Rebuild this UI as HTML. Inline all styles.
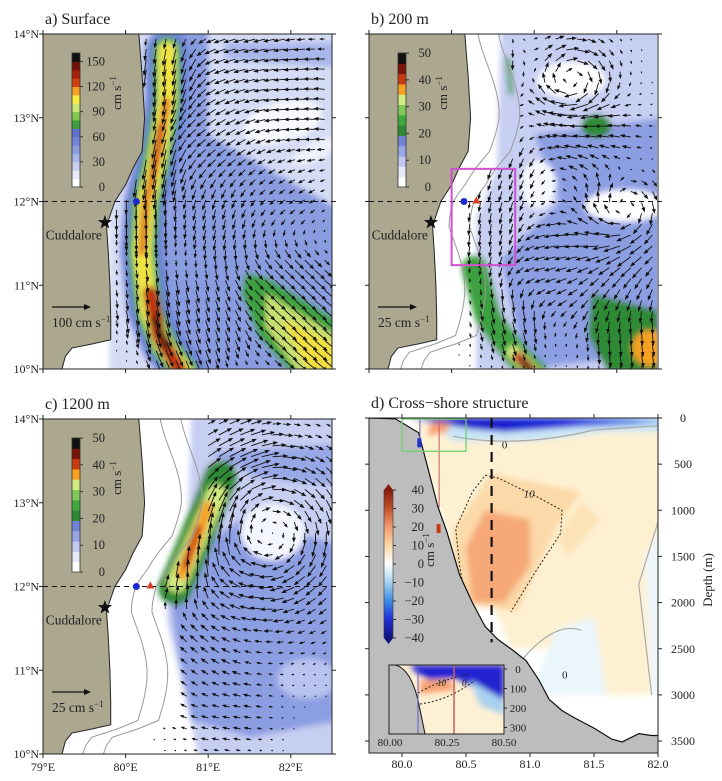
<!DOCTYPE html>
<html><head><meta charset="utf-8">
<style>
html,body{margin:0;padding:0;background:#fff;}
svg{display:block;font-family:"Liberation Serif",serif;}
</style></head>
<body>
<svg id="fig" width="722" height="781" viewBox="0 0 722 781" xmlns="http://www.w3.org/2000/svg">
<defs>
<filter id="bl" x="-20%" y="-20%" width="140%" height="140%"><feGaussianBlur stdDeviation="3"/></filter>
<clipPath id="clipA"><rect x="43" y="34" width="289" height="335"/></clipPath>
<clipPath id="clipB"><rect x="369" y="34" width="288" height="335"/></clipPath>
<clipPath id="clipC"><rect x="43" y="419" width="289" height="335"/></clipPath>
<clipPath id="clipD"><rect x="369" y="418" width="289" height="335"/></clipPath>
<clipPath id="clipIn"><rect x="389" y="665" width="115" height="69"/></clipPath>
<linearGradient id="dbar" x1="0" y1="0" x2="0" y2="1">
<stop offset="0" stop-color="#8c1a10"/><stop offset="0.12" stop-color="#c0502a"/><stop offset="0.25" stop-color="#f09a70"/><stop offset="0.37" stop-color="#fbd6a6"/><stop offset="0.5" stop-color="#ffffff"/><stop offset="0.62" stop-color="#a8d4f0"/><stop offset="0.75" stop-color="#3c8ce6"/><stop offset="0.87" stop-color="#2030d8"/><stop offset="1" stop-color="#101080"/>
</linearGradient>
<linearGradient id="topblue" x1="0" y1="0" x2="1" y2="0">
<stop offset="0" stop-color="#1010c0"/><stop offset="0.6" stop-color="#1a28d8"/><stop offset="0.85" stop-color="#5a8ae8"/><stop offset="1" stop-color="#c8e0f4"/>
</linearGradient>
</defs>
<g id="root"></g>
</svg>
<script>
// ---------- data arrays ----------
const latTicks=[14,13,12,11,10];
const lonTicks=[79,80,81,82];
const cbarA=[0,30,60,90,120,150];
const cbarB=[0,10,20,30,40,50];
const cbarD=[40,30,20,10,0,-10,-20,-30,-40];
const depthTicks=[0,500,1000,1500,2000,2500,3000,3500];
const dLonTicks=[80.0,80.5,81.0,81.5,82.0];
const insetDepth=[0,100,200,300];
const insetLon=["80.00","80.25","80.50"];
const coastLat=[14.0,13.5,13.0,12.6,12.4,12.2,12.0,11.8,11.7,11.4,11.0,10.6,10.35,10.3,10.25,10.15,10.0];
const coastLon=[80.16,80.2,80.23,80.2,80.09,80.0,79.87,79.8,79.77,79.79,79.81,79.82,79.82,79.6,79.35,79.27,79.23];
// velocity features [lon,lat,radius,u,v]
const featA=[[80.5,13.5,0.4,-0.2,-1.6],[80.35,12.5,0.35,-0.3,-1.8],[80.22,11.8,0.3,0,-1.8],[80.3,10.8,0.35,0.3,-1.8],[80.6,10.2,0.3,0.7,-1.5],[81.5,13.6,0.6,-1.0,-0.3],[82.2,13.2,0.6,-0.9,0.1],[81.2,12.8,0.5,-0.8,-0.6],[81.9,12.1,0.5,-0.5,-0.3],[81.2,11.8,0.5,-0.2,-0.9],[81.9,11.0,0.5,0.9,-0.8],[82.3,10.4,0.5,1.1,-0.9],[81.0,10.6,0.5,0.3,-1.0],[80.0,11,0.3,0,-0.2]];
const featB=[[80.6,13.5,0.4,-0.1,-1.0],[80.7,12.4,0.4,-0.3,-0.8],[80.5,11.6,0.4,-0.1,-1.0],[80.7,10.6,0.4,0.3,-1.1],[81.3,11.3,0.5,-1.0,-0.2],[82.0,11.0,0.5,-0.6,-0.8],[82.2,10.4,0.5,0.2,-1.1],[81.8,12.7,0.5,-1.0,0.2]];
const vortB=[[81.45,13.45,0.45,1.6],[82.1,11.9,0.45,1.4]];
const featC=[[80.9,12.6,0.35,0.6,1.3],[80.7,12.0,0.3,0.5,0.7],[81.3,13.6,0.4,0.6,0.3],[80.8,11.0,0.5,-0.4,0.4],[81.2,10.5,0.5,-0.6,0.1]];
const vortC=[[81.75,12.65,0.95,1.7]];

const NS="http://www.w3.org/2000/svg";
const root=document.getElementById('root');
function mk(tag,attrs,parent){const e=document.createElementNS(NS,tag);for(const k in attrs)e.setAttribute(k,attrs[k]);(parent||root).appendChild(e);return e;}
function txt(s,x,y,size,anchor,parent,extra){const t=mk('text',Object.assign({x:x,y:y,'font-size':size,'text-anchor':anchor||'start',fill:'#222'},extra||{}),parent);t.textContent=s;return t;}
function coast(lat){for(let i=0;i<coastLat.length-1;i++){if(lat<=coastLat[i]&&lat>=coastLat[i+1]){const f=(coastLat[i]-lat)/(coastLat[i]-coastLat[i+1]);return coastLon[i]+f*(coastLon[i+1]-coastLon[i]);}}return 79.2;}

function mapPanel(id,ox,oy,title,clip,opts){
  const X=lon=>ox+(lon-79)*82.6, Y=lat=>oy+(14-lat)*83.75;
  const g=mk('g',{});
  
  
  const t=txt(title,ox+2,oy-10,16,'start',g);
  
  
  const cg=mk('g',{'clip-path':'url(#'+clip+')'},g);
  mk('rect',{x:ox,y:oy,width:289,height:335,fill:'#fff'},cg);
  const sh=mk('g',{filter:'url(#bl)'},cg);
  const poly=(pts,fill,par)=>mk('path',{d:'M'+pts.map(p=>X(p[0])+','+Y(p[1])).join('L')+'Z',fill:fill},par||sh);
  const line=(pts,col,w,par)=>mk('path',{d:'M'+pts.map(p=>X(p[0])+','+Y(p[1])).join('L'),fill:'none',stroke:col,'stroke-width':w,'stroke-linecap':'round','stroke-linejoin':'round'},par||sh);
  const ell=(lon,lat,rx,ry,rot,fill,par)=>mk('ellipse',{cx:X(lon),cy:Y(lat),rx:rx,ry:ry,fill:fill,transform:'rotate('+rot+' '+X(lon)+' '+Y(lat)+')'},par||sh);
  opts.shade(poly,line,ell,X,Y,sh,cg);
  (opts.bathy||[]).forEach(off=>{
    const pts=[];for(let la=14;la>=10;la-=0.1){pts.push([coast(la)+off+0.1*Math.sin(la*3),la]);}
    mk('path',{d:'M'+pts.map(p=>X(p[0])+','+Y(p[1])).join('L'),fill:'none',stroke:'#999','stroke-width':1},cg);
  });
  const ag=mk('g',{stroke:'#111',fill:'#111'},cg);
  
  
  for(let la=13.94;la>10.0;la-=opts.step){for(let lo=79.05;lo<82.5;lo+=opts.step){
    if(lo<coast(la)+opts.off(la))continue;
    const v=opts.vel(lo,la);let sp=Math.hypot(v[0],v[1]);if(sp<0.05)continue;
    let L=Math.min(sp*opts.scale,opts.cap);
    const x0=X(lo),y0=Y(la),dx=v[0]/sp,dy=-v[1]/sp;
    const x1=x0+dx*L,y1=y0+dy*L;
    mk('line',{x1:x0,y1:y0,x2:x1,y2:y1,'stroke-width':0.9},ag);
    const h=Math.min(3.5,1+L*0.3),w=h*0.55;
    mk('path',{d:`M${x1+dx*h*0.4},${y1+dy*h*0.4}L${x1-dx*h-dy*w},${y1-dy*h+dx*w}L${x1-dx*h+dy*w},${y1-dy*h-dx*w}Z`,stroke:'none'},ag);
  }}
  const lp=[[78.9,14.1],[coastLon[0],14.1]];coastLat.forEach((la,i)=>lp.push([coastLon[i],la]));lp.push([79.22,9.9]);lp.push([78.9,9.9]);
  const land=mk('path',{d:'M'+lp.map(p=>X(p[0])+','+Y(p[1])).join('L')+'Z',fill:'#aca88f',stroke:'#222','stroke-width':1},cg);
  
  
  mk('line',{x1:ox,x2:ox+289,y1:Y(12),y2:Y(12),stroke:'#111','stroke-width':1,'stroke-dasharray':'5,4'},g);
  if(opts.box){const b=mk('rect',{x:X(80.0),y:Y(12.39),width:X(80.77)-X(80.0),height:Y(11.24)-Y(12.39),fill:'none',stroke:'#d050d0','stroke-width':2},g);}
  const dot=mk('circle',{cx:X(opts.dot[0]),cy:Y(12),r:3.5,fill:'#1a2ad0'},g);
  
  if(opts.tri){const tx=X(opts.tri),ty=Y(12);const tr=mk('path',{d:`M${tx},${ty-5}L${tx+4},${ty+2}L${tx-4},${ty+2}Z`,fill:'#d84020'},g);}
  const sx=X(79.75),sy=Y(11.75);let sp='';for(let i=0;i<10;i++){const r=i%2?3:7.5,a=-Math.PI/2+i*Math.PI/5;sp+=(i?'L':'M')+(sx+r*Math.cos(a))+','+(sy+r*Math.sin(a));}
  const st=mk('path',{d:sp+'Z',fill:'#111'},g);
  const cl=txt('Cuddalore',sx-3,sy+17,13.5,'end',g);
  mk('rect',{x:ox,y:oy,width:289,height:335,fill:'none',stroke:'#222','stroke-width':1},g);
  latTicks.forEach(la=>{mk('line',{x1:ox-4,x2:ox,y1:Y(la),y2:Y(la),stroke:'#222'},g);mk('line',{x1:ox+289,x2:ox+293,y1:Y(la),y2:Y(la),stroke:'#222'},g);
    if(opts.leftLabels){const l=txt(la+'°N',ox-4,Y(la)+4,12,'end',g);}});
  lonTicks.forEach(lo=>{mk('line',{x1:X(lo),x2:X(lo),y1:oy-4,y2:oy,stroke:'#222'},g);mk('line',{x1:X(lo),x2:X(lo),y1:oy+335,y2:oy+339,stroke:'#222'},g);
    if(opts.bottomLabels){const l=txt(lo+'°E',X(lo),oy+352,12,'middle',g);}});
  const cb=mk('g',{},g);
  const cx0=ox+29,cy0=oy+19,ch=134,n=opts.cols.length;
  opts.cols.forEach((c,i)=>mk('rect',{x:cx0,y:cy0+ch-(i+1)*ch/n,width:8,height:ch/n+0.5,fill:c},cb));
  mk('rect',{x:cx0,y:cy0,width:8,height:ch,fill:'none',stroke:'#333','stroke-width':0.8},cb);
  const vmax=opts.vmax;
  opts.ticks.forEach(v=>{const yy=cy0+ch-v/vmax*ch;mk('line',{x1:cx0+8,x2:cx0+11,y1:yy,y2:yy,stroke:'#333'},cb);txt(String(v),cx0+33,yy+4,12.5,'end',cb);});
  const u=mk('text',{x:0,y:0,'font-size':13,fill:'#222',transform:`translate(${cx0+49},${cy0+40}) rotate(-90)`,'text-anchor':'middle'},cb);u.innerHTML='cm s<tspan font-size="9" dy="-5">−1</tspan>';
  const sa=mk('g',{},g);
  const ay=oy+opts.scaleY;mk('line',{x1:ox+9,x2:ox+44,y1:ay,y2:ay,stroke:'#111','stroke-width':1.3},sa);
  mk('path',{d:`M${ox+48},${ay}L${ox+41},${ay-3}L${ox+41},${ay+3}Z`,fill:'#111'},sa);
  const st2=mk('text',{x:ox+9,y:ay+20,'font-size':13.5,fill:'#222'},sa);st2.innerHTML=opts.scaleTxt+' cm s<tspan font-size="9" dy="-5">−1</tspan>';
}
function velFrom(feat,vort){return (lo,la)=>{let su=0,sv=0,sw=1e-3;feat.forEach(f=>{const w=Math.exp(-((lo-f[0])**2+(la-f[1])**2)/(f[2]*f[2]));su+=w*f[3];sv+=w*f[4];sw+=w;});
  let u=su/Math.max(sw,0.6),v=sv/Math.max(sw,0.6);
  (vort||[]).forEach(q=>{const dx=lo-q[0],dy=la-q[1],w=Math.exp(-(dx*dx+dy*dy)/(q[2]*q[2]));u+=q[3]*dy/q[2]*w*1.6;v+=-q[3]*dx/q[2]*w*1.6;});return [u,v];};}

const colsA=['#ffffff','#e6eaf8','#c8d0f0','#a8b6ea','#8c9ee2','#7284d8','#5f72d0','#3e9e3e','#7ec850','#c8e878','#f8ec40','#f4a020','#d04010','#a82008','#701008','#111111'];
const colsB=['#ffffff','#e6eaf8','#c0caf0','#98a8e6','#7284d8','#2e8a34','#3eaa3e','#80c858','#d0ec80','#f4a020','#c83a10','#7a1408','#111111'];

mapPanel('a',43,34,'a) Surface','clipA',{leftLabels:true,bottomLabels:false,step:0.12,scale:11,cap:24,off:la=>0.05,vel:velFrom(featA),
 dot:[80.13],tri:null,cols:colsA,vmax:160,ticks:cbarA,scaleY:273,scaleTxt:'100',
 shade:(poly,line,ell,X,Y,sh)=>{
  poly([[79.8,14.1],[82.6,14.1],[82.6,9.9],[79.8,9.9]],'#d4dbf4');
  poly([[80.6,14.1],[81.0,14.1],[81.0,12.8],[82.6,11.9],[82.6,9.9],[80.6,9.9],[80.4,10.8],[80.6,12.6]],'#8a9ce0');
  poly([[81.2,13.9],[82.6,13.9],[82.6,13.6],[81.2,13.7]],'#a8b6ea');
  ell(81.9,12.95,40,20,-15,'#f8f9fe');ell(82.3,12.6,26,9,-25,'#eef1fb');
  const jet=[[80.5,13.8],[80.5,13.2],[80.38,12.5],[80.25,12.0],[80.2,11.4],[80.28,10.7],[80.45,10.3],[80.72,9.95]];
  line(jet,'#6f84d8',44);line(jet,'#38a040',28);line(jet,'#c8e46a',20);line(jet,'#f2e23c',13);
  line(jet.slice(1,5),'#e07020',7);line([[80.3,10.9],[80.4,10.4],[80.65,10.0]],'#c03010',14);line([[80.35,10.6],[80.5,10.25]],'#200808',6);
  line([[80.42,12.9],[80.32,12.3]],'#c84818',6);
  poly([[81.45,11.15],[81.7,11.1],[82.55,10.6],[82.55,9.95],[82.0,9.95],[81.6,10.4],[81.4,10.9]],'#3ea040');
  poly([[81.7,10.9],[82.55,10.4],[82.55,9.95],[82.1,9.95],[81.7,10.5]],'#c8e070');
  poly([[81.9,10.6],[82.55,10.3],[82.55,9.98],[82.2,9.98]],'#f2e040');
 }});
mapPanel('b',369,34,'b) 200 m','clipB',{leftLabels:false,bottomLabels:false,step:0.13,scale:11,cap:20,off:la=>(la>12.4?0.55:0.35),vel:velFrom(featB,vortB),
 dot:[80.15],tri:80.3,box:true,cols:colsB,vmax:50,ticks:cbarB,scaleY:273,scaleTxt:'25',bathy:[0.25,0.5],
 shade:(poly,line,ell,X,Y,sh)=>{
  poly([[80.6,14.1],[82.6,14.1],[82.6,9.9],[80.3,9.9],[80.3,11.8],[80.55,12.4]],'#c6cef2');
  poly([[81.0,12.8],[82.6,13.0],[82.6,10.2],[80.9,10.0],[80.6,11.3],[81.3,12.0]],'#8c9ee2');
  ell(81.45,13.45,34,18,0,'#ffffff');ell(82.1,11.95,40,16,0,'#ffffff');ell(81.05,12.2,18,24,0,'#f6f8ff');
  line([[80.68,13.7],[80.72,13.3]],'#3ea040',5);
  ell(81.75,12.9,15,12,0,'#2e8a34');
  const j=[[80.28,11.2],[80.45,10.6],[80.75,10.2],[81.0,9.95]];line(j,'#3ea040',26);line(j.slice(2),'#d0ec80',14);
  line([[80.8,10.15],[81.0,9.95]],'#c83a10',10);line([[80.85,10.1],[81.0,9.95]],'#111',5);
  poly([[81.7,10.9],[82.5,10.7],[82.55,9.95],[81.9,9.95],[81.65,10.4]],'#2e8a34');
  ell(82.4,10.25,18,18,0,'#f4a020');
 }});
mapPanel('c',43,419,'c) 1200 m','clipC',{leftLabels:true,bottomLabels:true,step:0.13,scale:11,cap:20,off:la=>(la>12.3?0.75:(la>11.6?0.6:0.85)),vel:velFrom(featC,vortC),
 dot:[80.13],tri:80.3,cols:colsB,vmax:50,ticks:cbarB,scaleY:273,scaleTxt:'25',bathy:[0.35,0.6],
 shade:(poly,line,ell,X,Y,sh)=>{
  poly([[80.8,14.1],[82.6,14.1],[82.6,9.9],[80.9,9.9],[80.5,11.6],[80.5,12.2],[80.75,12.6]],'#c6cef2');
  poly([[80.5,12.2],[81.4,12.8],[82.6,12.5],[82.6,10.4],[81.5,10.2],[80.8,10.4],[80.6,11.4]],'#8c9ee2');
  ell(82.2,10.9,30,20,0,'#b8c4ee');
  poly([[81.0,13.6],[82.6,13.7],[82.6,13.2],[81.6,13.3]],'#98a8e6');
  ell(81.78,12.65,32,28,0,'#f4f6ff');
  const j=[[80.6,11.98],[80.85,12.55],[81.15,13.3]];
  line(j,'#2e8a34',34);line([[80.62,12.05],[80.85,12.55],[81.1,13.1]],'#d0ec80',20);line([[80.68,12.15],[80.85,12.55],[81.0,12.95]],'#f4a020',12);line([[80.72,12.25],[80.88,12.7]],'#c83a10',7);
 }});

(function(){
  const ox=369,oy=418,W=289,H=335;
  const X=lon=>402+(lon-80)*128, Y=d=>418+d*0.0923;
  const g=mk('g',{});
  const t=txt('d) Cross−shore structure',ox+2,oy-10,16,'start',g);
  const cg=mk('g',{'clip-path':'url(#clipD)'},g);
  mk('rect',{x:ox,y:oy,width:W,height:H,fill:'#fff'},cg);
  const sh=mk('g',{filter:'url(#bl)'},cg);
  const P=(pts,fill,par)=>mk('path',{d:'M'+pts.map(p=>X(p[0])+','+Y(p[1])).join('L')+'Z',fill:fill},par||sh);
  P([[80.1,0],[82.1,0],[82.1,3000],[81.3,3000],[81.2,2500],[80.85,2500],[80.7,2000],[80.5,2000],[80.3,1000],[80.15,300]],'#fef1d2');
  P([[80.7,600],[81.4,800],[81.2,1200],[80.9,2100],[80.4,2000],[80.4,1200]],'#fcd9a8');
  P([[81.4,900],[81.55,1100],[81.3,1500],[81.2,1300]],'#fde2b8');
  P([[80.65,1000],[81.0,1100],[81.0,1600],[80.8,2000],[80.55,2000],[80.5,1400]],'#f6a878');
  P([[81.2,2300],[81.5,2150],[81.6,3000],[81.0,3000]],'#eaf6fc');
  P([[81.9,1500],[82.1,1000],[82.1,3000],[81.95,3000]],'#eef6fc');
  P([[80.05,0],[82.1,0],[82.1,150],[81.6,150],[81.0,250],[80.4,250],[80.25,80]],'#c8e4f6');
  mk('path',{d:`M${X(80.05)},${Y(0)}L${X(82.1)},${Y(0)}L${X(82.1)},${Y(60)}L${X(81.4)},${Y(90)}L${X(80.8)},${Y(150)}L${X(80.55)},${Y(120)}L${X(80.3)},${Y(60)}Z`,fill:'url(#topblue)'},sh);
  P([[80.22,50],[80.38,60],[80.35,150],[80.2,200]],'#f6a070');
  mk('path',{d:`M${X(80.4)},${Y(200)}Q${X(80.9)},${Y(330)} ${X(81.5)},${Y(130)}L${X(82.05)},${Y(80)}`,fill:'none',stroke:'#aaa','stroke-width':1.2},cg);
  mk('path',{d:`M${X(81.1)},${Y(3000)}L${X(80.95)},${Y(2600)}Q${X(81.2)},${Y(2200)} ${X(81.4)},${Y(2300)}`,fill:'none',stroke:'#aaa','stroke-width':1.2},cg);
  mk('path',{d:`M${X(81.95)},${Y(3000)}L${X(81.85)},${Y(1800)}L${X(82.05)},${Y(900)}`,fill:'none',stroke:'#aaa','stroke-width':1.2},cg);
  const c10=mk('path',{d:`M${X(80.5)},${Y(2000)}L${X(80.45)},${Y(1600)}L${X(80.42)},${Y(1200)}L${X(80.55)},${Y(800)}L${X(80.65)},${Y(620)}L${X(80.75)},${Y(650)}L${X(81.05)},${Y(850)}L${X(81.25)},${Y(1000)}L${X(81.24)},${Y(1250)}L${X(81.05)},${Y(1650)}L${X(80.85)},${Y(2100)}`,fill:'none',stroke:'#222','stroke-width':1,'stroke-dasharray':'2,2'},cg);
  
  txt('10',X(80.95),Y(860),11,'start',cg,{'font-style':'italic'});
  txt('0',X(80.78),Y(330),11,'start',cg);
  txt('0',X(81.25),Y(2820),11,'start',cg);
  const topo=[[79.74,0],[79.95,10],[80.13,160],[80.2,530],[80.28,960],[80.35,1230],[80.45,1700],[80.55,2000],[80.65,2260],[80.75,2400],[80.87,2520],[80.97,2630],[81.07,2840],[81.15,3050],[81.25,3170],[81.35,3250],[81.5,3360],[81.64,3480],[81.72,3510],[81.85,3420],[81.95,3440],[82.05,3440]];
  const tp=mk('path',{d:'M'+topo.map(p=>X(p[0])+','+Y(p[1])).join('L')+`L${X(82.1)},${Y(3700)}L${X(79.7)},${Y(3700)}Z`,fill:'#bdbdbd',stroke:'#111','stroke-width':1.2},cg);
  
  mk('line',{x1:X(80.7),x2:X(80.7),y1:oy,y2:Y(2430),stroke:'#111','stroke-width':2.2,'stroke-dasharray':'10,7'},cg);
  mk('line',{x1:X(80.29),x2:X(80.29),y1:oy,y2:Y(970),stroke:'#c06060','stroke-width':1},cg);
  mk('rect',{x:X(80.27),y:Y(1150),width:4,height:9,fill:'#c83a10'},cg);
  mk('line',{x1:X(80.14),x2:X(80.14),y1:oy,y2:Y(230),stroke:'#6060c0','stroke-width':1},cg);
  mk('rect',{x:X(80.12),y:Y(220),width:4,height:9,fill:'#2030d0'},cg);
  const gb=mk('rect',{x:X(80.0),y:oy+1,width:X(80.5)-X(80.0),height:Y(350)-oy,fill:'none',stroke:'#70d070','stroke-width':1.3},cg);
  
  const ig=mk('g',{},g);
  const icg=mk('g',{'clip-path':'url(#clipIn)'},ig);
  mk('rect',{x:389,y:665,width:115,height:69,fill:'#fef0d4'},icg);
  const ib=mk('g',{filter:'url(#bl)'},icg);
  mk('path',{d:'M410,665L504,665L504,700L480,690L455,678L430,680L415,672Z',fill:'#2222d0'},ib);
  mk('path',{d:'M470,680L504,700L504,715L480,705Z',fill:'#a8d0f0'},ib);
  mk('path',{d:'M420,680L450,680L455,690L420,694Z',fill:'#f6a070'},ib);
  mk('path',{d:'M389,665L395,665Q410,668 418,700L425,734L389,734Z',fill:'#bdbdbd',stroke:'#111','stroke-width':1},icg);
  mk('path',{d:'M418,693Q440,680 470,674',fill:'none',stroke:'#222','stroke-dasharray':'2,2'},icg);
  mk('path',{d:'M420,704Q450,700 475,680',fill:'none',stroke:'#222','stroke-dasharray':'2,2'},icg);
  mk('line',{x1:418,x2:418,y1:665,y2:734,stroke:'#6060c0'},icg);
  mk('line',{x1:454,x2:454,y1:665,y2:734,stroke:'#c06060','stroke-width':1.5},icg);
  txt('10',437,686,9,'start',icg,{'font-style':'italic'});txt('0',462,686,9,'start',icg,{'font-style':'italic'});
  mk('rect',{x:389,y:665,width:115,height:69,fill:'none',stroke:'#222'},ig);
  insetDepth.forEach(d=>{mk('line',{x1:504,x2:507,y1:665+d*0.195+4,y2:665+d*0.195+4,stroke:'#222'},ig);txt(String(d),518,665+d*0.195+8,11,'middle',ig);});
  insetLon.forEach((s,i)=>{txt(s,390+i*57,746,11,'middle',ig);});
  mk('rect',{x:ox,y:oy,width:W,height:H,fill:'none',stroke:'#222'},g);
  depthTicks.forEach(d=>{mk('line',{x1:ox+W,x2:ox+W+4,y1:Y(d),y2:Y(d),stroke:'#222'},g);mk('line',{x1:ox-4,x2:ox,y1:Y(d),y2:Y(d),stroke:'#222'},g);const l=txt(String(d),683,Y(d)+4,12,'middle',g);});
  dLonTicks.forEach(lo=>{mk('line',{x1:X(lo),x2:X(lo),y1:oy+H,y2:oy+H+4,stroke:'#222'},g);mk('line',{x1:X(lo),x2:X(lo),y1:oy-4,y2:oy,stroke:'#222'},g);const l=txt(lo.toFixed(1),X(lo),768,12,'middle',g);});
  const yt=mk('text',{x:0,y:0,'font-size':13,fill:'#222','text-anchor':'middle',transform:'translate(712,580) rotate(-90)'},g);yt.textContent='Depth (m)';
  
  const cb=mk('g',{},g);
  const cx=384,cy0=490,ch=148;
  mk('rect',{x:cx,y:cy0,width:9,height:ch,fill:'url(#dbar)',stroke:'#333','stroke-width':0.6},cb);
  mk('path',{d:`M${cx},${cy0}L${cx+4.5},${cy0-6}L${cx+9},${cy0}Z`,fill:'#8c1a10'},cb);
  mk('path',{d:`M${cx},${cy0+ch}L${cx+4.5},${cy0+ch+6}L${cx+9},${cy0+ch}Z`,fill:'#101080'},cb);
  cbarD.forEach((v,i)=>{const yy=cy0+i*ch/8;mk('line',{x1:cx+9,x2:cx+12,y1:yy,y2:yy,stroke:'#333'},cb);txt(String(v).replace('-','−'),cx+40,yy+4,12.5,'end',cb);});
  const u=mk('text',{x:0,y:0,'font-size':13,fill:'#222','text-anchor':'middle',transform:`translate(${cx+50},${cy0+60}) rotate(-90)`},cb);u.innerHTML='cm s<tspan font-size="9" dy="-5">−1</tspan>';
})();
</script>
</body></html>
